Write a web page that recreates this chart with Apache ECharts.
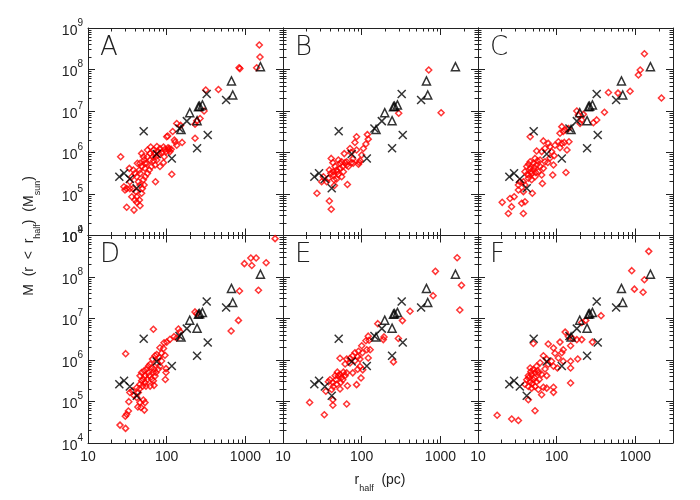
<!DOCTYPE html>
<html>
<head>
<meta charset="utf-8">
<script src="https://cdn.jsdelivr.net/npm/echarts@6/dist/echarts.min.js"></script>
<style>
  html, body { margin: 0; padding: 0; background: #fff; }
  #chart { width: 700px; height: 500px; }
</style>
</head>
<body>
<div id="chart"></div>
<script>
// panels, in reading order
const panelNames = ['A', 'B', 'C', 'D', 'E', 'F']

// axis ranges (r_half in pc, mass in Msun)
const xRange = [10, 3000]
const yRange = [1e4, 1e9]

// black crosses and triangles: same in every panel
const crossPts = [
  [25, 2.6e5], [28.7, 3.15e5], [34, 2.3e5], [41.6, 1.37e5], [51, 3.24e6], [74.6, 9.2e5],
  [116, 7.2e5], [145, 3.8e6], [180, 5.7e6], [243, 1.26e6], [322, 2.57e7], [332, 2.64e6], [568, 1.84e7]
]
const trianglePts = [
  [152, 3.6e6], [196, 9.1e6], [243, 5.85e6], [253, 1.27e7], [262, 1.3e7], [284, 1.4e7],
  [664, 5.3e7], [690, 2.43e7], [1550, 1.17e8]
]

// red diamonds, one list per panel
const redA = [
  [1500, 3.9e8], [1530, 2.0e8], [1390, 1.1e8], [830, 1.1e8], [850, 1.05e8], [454, 3.3e7], [313, 3.2e7],
  [298, 1.0e7], [265, 6.6e6], [241, 5.8e6], [229, 4.8e6], [134, 5.0e6], [150, 4.5e6], [119, 3.2e6],
  [100, 2.4e6], [128, 1.8e6], [134, 1.5e6], [157, 1.75e6], [229, 2.2e6], [116, 3.0e5], [75, 1.4e6],
  [82, 1.25e6], [91, 1.35e6], [95, 1.2e6], [98, 1.05e6], [105, 1.15e6], [86, 9.9e5], [93, 7.9e5],
  [80, 9.2e5], [91, 5.7e5], [72, 1.98e5], [73, 7.9e5], [68, 6.35e5], [71, 5.0e5], [61.5, 6.6e5],
  [64, 4.6e5], [55.6, 5.5e5], [60, 3.8e5], [50.5, 7.9e5], [53, 5.5e5], [48, 4.6e5], [46, 3.15e5],
  [57, 1.15e6], [62.6, 1.35e6], [67.7, 1.15e6], [48, 9.5e5], [51.6, 6.6e5], [42.4, 5.5e5], [45, 3.8e5],
  [41.6, 2.6e5], [43.6, 1.98e5], [45.8, 1.65e5], [40.7, 1.14e5], [41.6, 8.6e4], [39.5, 7.2e4],
  [38.4, 4.1e4], [45.8, 5.2e4], [31, 4.8e4], [28.6, 1.5e5], [29.5, 1.25e5], [31, 1.35e5], [26, 7.9e5],
  [33.5, 4.15e5], [37.7, 3.8e5], [36, 2.6e5], [39.5, 3.15e5], [50.5, 2.2e5], [51.6, 1.65e5], [48, 1.04e5],
  [53, 2.6e5], [45, 7.2e4], [57, 3.15e5], [34, 1.98e5], [61.5, 9.5e5], [74.6, 6.6e5], [82, 4.6e5],
  [78, 1.05e6], [69.8, 9.5e5], [66.4, 7.9e5], [57, 7.9e5], [53, 4.15e5], [45.8, 5.5e5], [37, 1.35e5],
  [34, 1.35e5], [49, 1.35e5], [36, 8.6e4], [41.6, 6.3e4], [104, 1.3e6], [108, 1.25e6], [114, 1.2e6],
  [110, 1.05e6], [125, 2.0e6], [103, 2.5e6]
]
const redB = [
  [710, 9.7e7], [1020, 9.1e6], [295, 8.8e6], [86, 2.4e6], [118, 2.7e6], [121, 2.1e6], [82, 1.75e6],
  [113, 1.6e6], [105, 1.25e6], [71, 1.25e6], [60, 9.4e5], [73, 1.0e6], [86, 1.15e6], [95, 6.35e5],
  [91, 5.2e5], [100, 8.7e5], [41, 7.2e5], [43, 5.7e5], [50.5, 6.6e5], [55.6, 6.0e5], [61.5, 5.75e5],
  [74.6, 5.7e5], [64.4, 5.0e5], [67.7, 4.6e5], [53, 4.15e5], [58.5, 3.45e5], [46, 4.6e5], [48, 3.8e5],
  [38.8, 3.8e5], [40.5, 3.15e5], [43.6, 2.87e5], [50.5, 2.95e5], [55.6, 2.6e5], [37.7, 2.4e5],
  [44.5, 2.2e5], [48, 2.3e5], [31, 1.98e5], [35.9, 1.98e5], [65.8, 1.7e5], [45, 1.6e5], [27, 1.04e5],
  [38.8, 6.8e4], [41, 4.3e4], [53, 5.5e5], [57.5, 4.6e5], [78, 5.5e5], [93, 5.75e5], [43.6, 3.45e5],
  [49, 3.45e5], [64.4, 6.0e5], [32.6, 2.6e5], [77, 7.0e5]
]
const redC = [
  [1300, 2.4e8], [1150, 9.7e7], [1090, 7.4e7], [2140, 2.05e7], [855, 3.0e7], [600, 2.7e7], [454, 2.8e7],
  [404, 9.3e6], [180, 1.0e7], [188, 8.0e6], [218, 8.3e6], [208, 6.1e6], [198, 5.0e6], [292, 5.2e6],
  [322, 6.1e6], [116, 4.2e6], [121, 3.2e6], [110, 2.9e6], [128, 3.5e6], [141, 3.8e6], [46, 2.4e6],
  [67.7, 1.9e6], [78, 1.66e6], [105, 1.82e6], [116, 1.66e6], [125, 1.75e6], [143, 1.82e6], [82, 1.38e6],
  [95, 1.5e6], [110, 1.3e6], [135, 1.15e6], [55.6, 1.09e6], [64.4, 1.05e6], [71, 1.26e6], [86, 1.05e6],
  [93, 8.4e5], [82, 7.4e5], [53, 7.2e5], [61.5, 6.6e5], [71, 6.0e5], [77, 5.75e5], [91, 5.0e5],
  [46, 6.0e5], [50.5, 5.5e5], [55.6, 5.0e5], [61.5, 4.6e5], [67.7, 4.15e5], [41.6, 4.6e5], [46, 4.15e5],
  [50.5, 3.8e5], [58.5, 3.45e5], [39.5, 3.45e5], [43.6, 2.87e5], [48, 3.15e5], [53, 2.6e5], [64.4, 2.87e5],
  [131, 3.3e5], [89, 2.87e5], [43.6, 2.4e5], [48, 2.2e5], [37.7, 1.98e5], [34, 1.98e5], [32.6, 1.65e5],
  [39.5, 1.65e5], [65.8, 1.8e5], [49, 1.04e5], [37.7, 1.14e5], [32.6, 1.25e5], [28.8, 8.6e4],
  [25.5, 7.8e4], [20.3, 6.3e4], [26.7, 4.95e4], [24.3, 3.4e4], [37.7, 3.4e4], [39.5, 6.5e4], [35.9, 6.0e4],
  [44, 5.2e5], [52, 4.4e5], [57, 6.3e5], [47, 3.5e5], [42, 3.0e5], [54, 3.3e5]
]
const redD = [
  [2380, 8.4e8], [970, 2.1e8], [1170, 2.87e8], [1367, 2.87e8], [1204, 1.9e8], [1833, 2.2e8], [1463, 4.8e7],
  [840, 4.6e7], [815, 9.0e6], [658, 5.0e6], [229, 1.44e7], [240, 1.3e7], [67.7, 5.5e6], [30.1, 1.42e6],
  [141, 5.6e6], [148, 4.8e6], [124, 3.65e6], [110, 3.15e6], [100, 2.7e6], [134, 3.4e6], [92.5, 2.6e6],
  [82, 1.98e6], [91, 1.9e6], [95, 1.3e6], [86, 1.45e6], [74.6, 1.35e6], [71, 1.26e6], [80, 1.15e6],
  [66, 1.05e6], [74.6, 8.6e5], [98, 6.2e5], [98, 5.0e5], [96, 3.4e5], [61.5, 7.9e5], [64.4, 6.5e5],
  [67.7, 5.0e5], [71, 4.1e5], [69, 2.45e5], [55.6, 6.0e5], [58.5, 5.0e5], [53, 4.15e5], [50.5, 3.45e5],
  [48, 3.15e5], [45.8, 2.6e5], [45, 2.0e5], [43.6, 1.65e5], [41.6, 1.24e5], [50.5, 1.09e5], [53, 9.4e4],
  [45.8, 9.4e4], [43, 7.4e4], [47, 7.2e4], [52, 6.2e4], [33, 9.9e4], [34, 1.65e5], [36.6, 1.8e5],
  [32.6, 5.9e4], [31, 4.9e4], [29.8, 4.4e4], [25.5, 2.7e4], [30, 2.25e4], [53, 2.85e5], [57, 3.45e5],
  [60, 4.15e5], [54.5, 2.35e5], [49.5, 2.35e5], [61.5, 2.35e5], [64.4, 3.45e5], [67.7, 3.15e5],
  [73, 5.0e5], [78, 6.0e5], [82, 7.1e5], [86, 9.5e5], [45.8, 4.15e5], [48, 5.0e5], [51.6, 5.5e5],
  [41.6, 2.15e5], [38.4, 1.4e5], [58.5, 7.1e5], [69, 6.0e5]
]
const redE = [
  [1630, 2.9e8], [863, 1.37e8], [1850, 6.3e7], [807, 3.55e7], [1762, 1.6e7], [411, 1.49e7], [329, 8.9e6],
  [160, 7.5e6], [192, 3.6e6], [188, 3.1e6], [292, 3.3e6], [253, 9.0e5], [121, 3.75e6], [124, 3.0e6],
  [113, 2.9e6], [100, 2.2e6], [116, 1.77e6], [128, 1.77e6], [91, 1.62e6], [82, 1.5e6], [102, 1.5e6],
  [77, 1.27e6], [89, 1.2e6], [71, 1.1e6], [64.4, 1.05e6], [53, 1.1e6], [121, 1.12e6], [82, 9.6e5],
  [95, 7.0e5], [103, 5.8e5], [89, 6.0e5], [77, 4.9e5], [98, 3.7e5], [64.4, 4.9e5], [58.5, 5.1e5],
  [53, 4.5e5], [61.5, 4.2e5], [55.6, 3.8e5], [50.5, 4.2e5], [47, 3.35e5], [43, 2.85e5], [39.5, 3.35e5],
  [37.7, 3.0e5], [43.6, 2.3e5], [48, 2.6e5], [54, 2.85e5], [57.5, 3.35e5], [41.5, 1.95e5], [35, 1.76e5],
  [53, 2.0e5], [65.8, 2.4e5], [86, 2.55e5], [43, 1.1e5], [64.4, 8.7e4], [43, 8.1e4], [21.8, 9.5e4],
  [33.5, 4.8e4], [46, 4.2e5], [49, 5.1e5], [71, 8.5e5], [61.5, 8.0e5], [95, 1.05e6]
]
const redF = [
  [1476, 4.15e8], [898, 1.42e8], [1300, 8.6e7], [970, 5.1e7], [1250, 4.3e7], [366, 1.17e7], [234, 9.0e6],
  [208, 8.0e6], [128, 4.7e6], [141, 3.7e6], [159, 3.3e6], [180, 3.1e6], [208, 3.1e6], [284, 2.7e6],
  [110, 2.7e6], [150, 2.2e6], [78, 2.43e6], [50.5, 2.5e6], [91, 1.95e6], [121, 1.77e6], [116, 1.5e6],
  [95, 1.45e6], [105, 1.12e6], [121, 9.3e5], [150, 9.3e5], [185, 1.06e6], [150, 6.4e5], [150, 2.8e5],
  [67.7, 1.27e6], [74.6, 1.05e6], [86, 9.3e5], [61.5, 8.6e5], [78, 7.9e5], [91, 7.1e5], [102, 6.4e5],
  [71, 6.1e5], [55.6, 7.1e5], [50.5, 5.9e5], [46, 6.4e5], [58.5, 4.9e5], [64.4, 4.5e5], [74.6, 4.2e5],
  [53, 4.9e5], [48, 4.5e5], [43.6, 4.2e5], [50.5, 3.35e5], [55.6, 3.0e5], [46, 3.0e5], [41.6, 3.35e5],
  [39.5, 2.6e5], [43.6, 2.3e5], [48, 2.1e5], [53, 2.3e5], [67.7, 2.2e5], [74.6, 2.1e5], [91, 2.2e5],
  [91, 1.66e5], [64.4, 1.45e5], [58.5, 1.95e5], [43.6, 1.1e5], [53, 6.0e4], [17.5, 4.65e4],
  [26.8, 3.8e4], [32.6, 3.5e4], [47, 5.3e5], [52, 3.8e5], [57, 5.6e5], [44, 3.7e5], [49, 2.7e5], [60, 3.4e5]
]
const redSets = [redA, redB, redC, redD, redE, redF]

const chart = echarts.init(document.getElementById('chart'))

const FONT = 'Liberation Sans'
const INK = '#222'
const colLeft = [88, 283, 478]
const rowTop = [28, 235.5]
const PW = 195
const PH = 207.5

// tick positions in log10 units for the decoration axes
const lx = [Math.log10(xRange[0]), Math.log10(xRange[1])]
const ly = [Math.log10(yRange[0]), Math.log10(yRange[1])]
const majorX = [1, 2, 3]
const majorY = [4, 5, 6, 7, 8, 9]
const minorX = []
for (let d = 1; d <= 3; d++) {
  for (let k = 2; k <= 9; k++) {
    if (k * Math.pow(10, d) < xRange[1]) minorX.push(Math.log10(k * Math.pow(10, d)))
  }
}
const minorY = []
for (let d = 4; d <= 8; d++) {
  for (let k = 2; k <= 9; k++) minorY.push(Math.log10(k * Math.pow(10, d)))
}

const isDecade = v => Math.abs(Math.log10(v) - Math.round(Math.log10(v))) < 1e-6

const tickAxis = (gi, pos, range, values, len, line) => ({
  gridIndex: gi,
  type: 'value',
  position: pos,
  min: range[0],
  max: range[1],
  axisLine: { show: line, onZero: false, lineStyle: { color: INK, width: 1 } },
  axisTick: { show: true, inside: true, length: len, customValues: values, lineStyle: { color: INK, width: 1 } },
  axisLabel: { show: false },
  splitLine: { show: false }
})

const grids = []
const xAxes = []
const yAxes = []
const series = []
const graphics = []

panelNames.forEach((name, i) => {
  const col = i % 3
  const row = Math.floor(i / 3)
  grids.push({ left: colLeft[col], top: rowTop[row], width: PW, height: PH })

  xAxes.push({
    gridIndex: i,
    type: 'log',
    logBase: 10,
    min: xRange[0],
    max: xRange[1],
    position: 'bottom',
    axisLine: { show: true, onZero: false, lineStyle: { color: INK, width: 1 } },
    axisTick: { show: false },
    splitLine: { show: false },
    axisLabel: {
      show: row === 1,
      margin: 7,
      fontSize: 14,
      fontFamily: FONT,
      color: INK,
      formatter: v => isDecade(v) ? String(Math.round(v)) : ''
    }
  })
  xAxes.push(tickAxis(i, 'bottom', lx, majorX, 7, false))
  xAxes.push(tickAxis(i, 'bottom', lx, minorX, 3.5, false))
  xAxes.push(tickAxis(i, 'top', lx, majorX, 7, true))
  xAxes.push(tickAxis(i, 'top', lx, minorX, 3.5, false))

  yAxes.push({
    gridIndex: i,
    type: 'log',
    logBase: 10,
    min: yRange[0],
    max: yRange[1],
    position: 'left',
    axisLine: { show: true, onZero: false, lineStyle: { color: INK, width: 1 } },
    axisTick: { show: false },
    splitLine: { show: false },
    axisLabel: {
      show: col === 0,
      margin: 5,
      color: INK,
      fontFamily: FONT,
      formatter: v => isDecade(v) ? '{b|10}{sup|' + Math.round(Math.log10(v)) + '}' : '',
      rich: {
        b: { fontSize: 14, fontFamily: FONT, color: INK, lineHeight: 15, verticalAlign: 'bottom' },
        sup: { fontSize: 10, fontFamily: FONT, color: INK, lineHeight: 20, verticalAlign: 'top' }
      }
    }
  })
  yAxes.push(tickAxis(i, 'left', ly, majorY, 7, false))
  yAxes.push(tickAxis(i, 'left', ly, minorY, 3.5, false))
  yAxes.push(tickAxis(i, 'right', ly, majorY, 7, true))
  yAxes.push(tickAxis(i, 'right', ly, minorY, 3.5, false))

  const ax = i * 5
  series.push({
    type: 'scatter',
    xAxisIndex: ax,
    yAxisIndex: ax,
    data: redSets[i],
    symbol: 'diamond',
    symbolSize: 6,
    itemStyle: { color: 'rgba(255,255,255,0)', borderColor: '#ff0000', borderWidth: 1.5 }
  })
  series.push({
    type: 'scatter',
    xAxisIndex: ax,
    yAxisIndex: ax,
    data: crossPts,
    symbol: 'path://M0,0L10,10M10,0L0,10',
    symbolSize: 8,
    itemStyle: { color: 'none', borderColor: '#000', borderWidth: 1.5 }
  })
  series.push({
    type: 'scatter',
    xAxisIndex: ax,
    yAxisIndex: ax,
    data: trianglePts,
    symbol: 'triangle',
    symbolSize: 8,
    itemStyle: { color: 'rgba(255,255,255,0)', borderColor: '#000', borderWidth: 1.5 }
  })

  // panel letter, thin face like the original plot
  graphics.push({
    type: 'text',
    x: colLeft[col] + 12,
    y: rowTop[row] + 7,
    style: {
      text: name, fontSize: 26, fontFamily: 'DejaVu Sans', fontWeight: 200,
      fill: INK, align: 'left', verticalAlign: 'top'
    }
  })
})

// axis titles
graphics.push({
  type: 'text',
  x: 32,
  y: 236,
  rotation: Math.PI / 2,
  style: {
    text: '{b|M  (r  <  r}{s|half}{b|)  (M}{s|sun}{b|)}',
    align: 'center',
    verticalAlign: 'middle',
    rich: {
      b: { fontSize: 14, fontFamily: FONT, fill: INK, lineHeight: 16, verticalAlign: 'top' },
      s: { fontSize: 9, fontFamily: FONT, fill: INK, lineHeight: 20, verticalAlign: 'bottom' }
    }
  }
})
graphics.push({
  type: 'text',
  x: 380,
  y: 483,
  style: {
    text: '{b|r}{s|half}{b|  (pc)}',
    align: 'center',
    verticalAlign: 'middle',
    rich: {
      b: { fontSize: 14, fontFamily: FONT, fill: INK, lineHeight: 16, verticalAlign: 'top' },
      s: { fontSize: 9, fontFamily: FONT, fill: INK, lineHeight: 20, verticalAlign: 'bottom' }
    }
  }
})

chart.setOption({
  animation: false,
  backgroundColor: '#fff',
  grid: grids,
  xAxis: xAxes,
  yAxis: yAxes,
  series: series,
  graphic: graphics
})
</script>
</body>
</html>
